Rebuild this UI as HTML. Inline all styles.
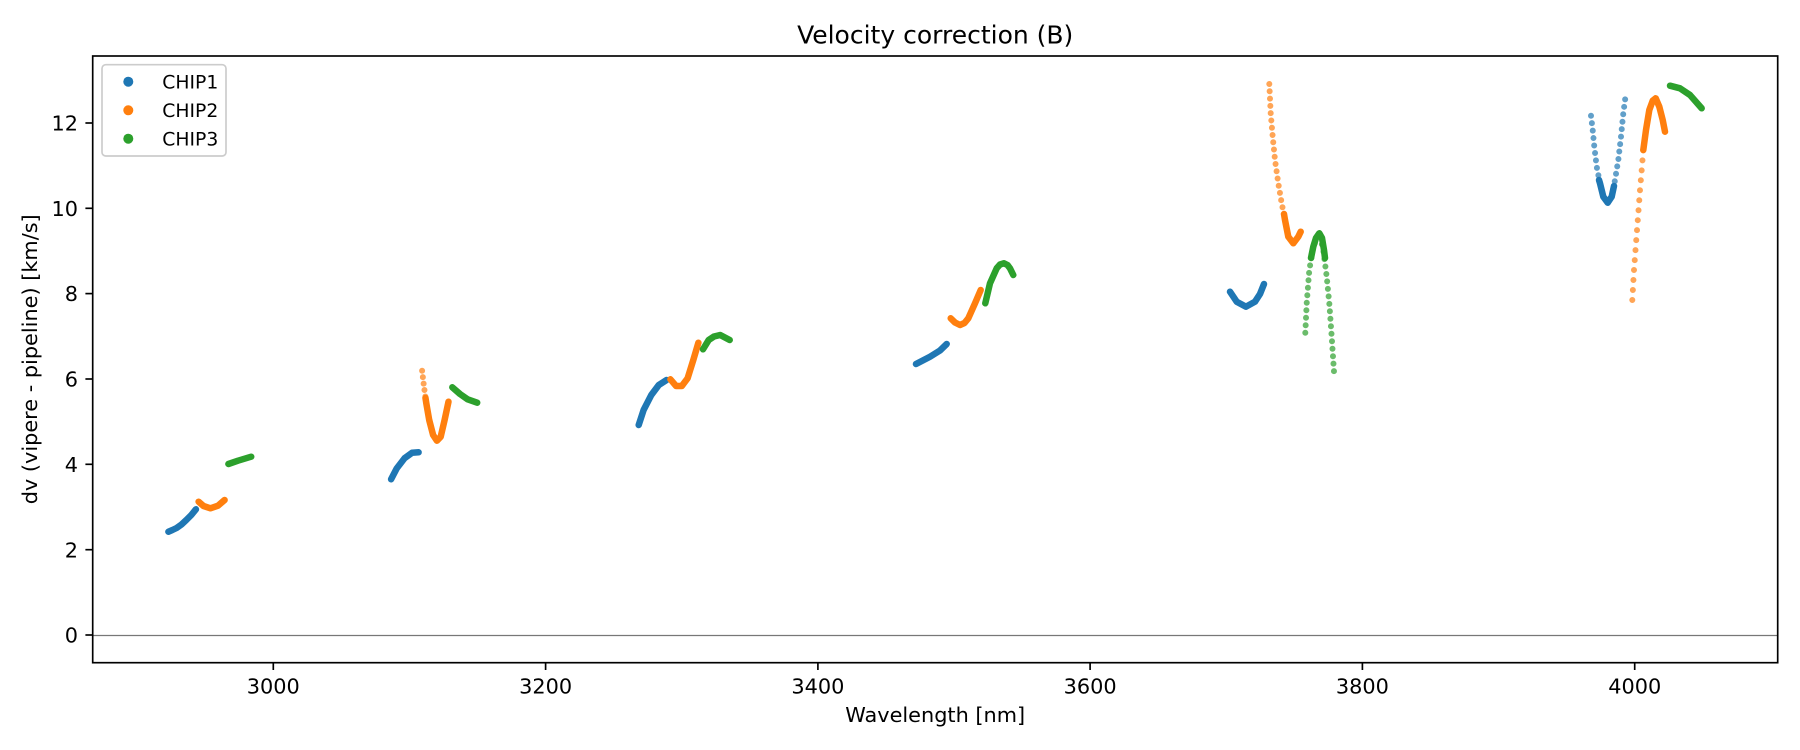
<!DOCTYPE html>
<html>
<head>
<meta charset="utf-8">
<style>
html,body{margin:0;padding:0;background:#fff;}
svg{display:block;}
text{font-family:"DejaVu Sans","Liberation Sans",sans-serif;fill:#000;}
</style>
</head>
<body>
<svg width="1800" height="750" viewBox="0 0 1800 750" xmlns="http://www.w3.org/2000/svg">
<rect x="0" y="0" width="1800" height="750" fill="#fff"/>

<!-- zero line -->
<line x1="92.7" y1="635.5" x2="1777.7" y2="635.5" stroke="#777" stroke-width="1.2"/>

<g fill="none" stroke-linecap="round" stroke-linejoin="round">
<!-- Group 1 -->
<polyline stroke="#1f77b4" stroke-width="6.5" points="168.4,531.7 172.4,530 176.6,528 181.5,524.5 186.3,520 191.3,515 195.9,509.3"/>
<polyline stroke="#ff7f0e" stroke-width="6.5" points="198.6,501.7 203.5,506 210.4,508.3 218,505.7 224.6,500"/>
<polyline stroke="#2ca02c" stroke-width="6.5" points="228.4,464 238,460.7 251.2,456.7"/>

<!-- Group 2 -->
<polyline stroke="#1f77b4" stroke-width="6.5" points="391.1,479.3 396.8,468.3 404.5,458.3 412.1,452.7 418.6,452.3"/>
<polyline stroke="#ff7f0e" stroke-width="6" stroke-dasharray="0 6.5" opacity="0.7" points="422.1,370.7 424,386.7 426.3,403.3"/>
<polyline stroke="#ff7f0e" stroke-width="6.5" points="425.5,398 426.3,403.3 429.2,420 433.1,435 436.9,440.7 440.7,436.7 444.6,420 448.5,401.7"/>
<polyline stroke="#2ca02c" stroke-width="6.5" points="452.3,387.3 460,394 467.6,399.3 477.2,402.7"/>

<!-- Group 3 -->
<polyline stroke="#1f77b4" stroke-width="6.5" points="638.7,425 643.6,410 651.3,395 658.8,385 666.6,380"/>
<polyline stroke="#ff7f0e" stroke-width="6.5" points="670.4,379.3 676.1,386 681.8,386 687.6,378.3 693.3,360 698.4,342.7"/>
<polyline stroke="#2ca02c" stroke-width="6.5" points="703,349.3 708.7,340 714,336.5 720.2,335 729.7,340"/>

<!-- Group 4 -->
<polyline stroke="#1f77b4" stroke-width="6.5" points="916,364 930,356.7 940,350.5 946.7,344"/>
<polyline stroke="#ff7f0e" stroke-width="6.5" points="950.7,318.3 955,322.5 960,325 964.5,323 968.3,318.3 975,303.3 980.7,290"/>
<polyline stroke="#2ca02c" stroke-width="6.5" points="985.3,303.3 990,283.3 996.7,268.3 1000,264.5 1004,263.3 1007.5,265 1010,268.3 1013.3,275"/>

<!-- Group 5 -->
<polyline stroke="#1f77b4" stroke-width="6.5" points="1230,291.7 1236.7,301.7 1246,306.7 1255,301.7 1260,294 1264,284"/>
<polyline stroke="#ff7f0e" stroke-width="6" stroke-dasharray="0 7.3" opacity="0.7" points="1269.3,84 1270.7,113.3 1272.7,136.7 1275,160 1278.3,183.3 1281.7,203.3 1285,220"/>
<polyline stroke="#ff7f0e" stroke-width="6.5" points="1284,214 1285,220 1288.3,236.7 1293.3,243.3 1298.3,236.7 1300.7,231.7"/>
<polyline stroke="#2ca02c" stroke-width="6" stroke-dasharray="0 7.5" opacity="0.7" points="1305.3,332.7 1306.7,303.3 1309.3,270 1313.3,246.7 1319.3,233.3 1323.3,250 1326.7,276.7 1329.3,303.3 1331.7,336.7 1334,371.7"/>
<polyline stroke="#2ca02c" stroke-width="6.5" points="1311,258 1313.3,246.7 1316,238 1319.3,233.3 1322,238 1324,250 1325,258"/>

<!-- Group 6 -->
<polyline stroke="#1f77b4" stroke-width="6" stroke-dasharray="0 7.5" opacity="0.7" points="1591,115.7 1592.7,130 1594.3,146.7 1596.7,166.7 1600,183.3 1603.3,196.7 1607.7,202.7 1611.7,196.7 1615,180 1618.3,160 1621,136.7 1623.3,113.3 1625.7,95"/>
<polyline stroke="#1f77b4" stroke-width="6.5" points="1599,180 1600,183.3 1603.3,196.7 1607.7,202.7 1611.7,196.7 1614,186"/>
<polyline stroke="#ff7f0e" stroke-width="6" stroke-dasharray="0 10" opacity="0.7" points="1632.3,300 1634,270 1636,243.3 1638.3,213.3 1640,190 1641.7,170 1643.3,150"/>
<polyline stroke="#ff7f0e" stroke-width="6.5" points="1643.3,150 1646,130 1649.3,110 1652.7,100.7 1655.7,98.3 1659.3,106.7 1662.7,120 1665,131.7"/>
<polyline stroke="#2ca02c" stroke-width="6.5" points="1670,85.7 1680,88.3 1690,95 1701.7,108.3"/>
</g>

<!-- axes frame -->
<rect x="92.7" y="56" width="1685" height="606.7" fill="none" stroke="#000" stroke-width="1.67"/>

<!-- x ticks -->
<g stroke="#000" stroke-width="1.67">
<line x1="273.3" y1="662.7" x2="273.3" y2="670"/>
<line x1="545.6" y1="662.7" x2="545.6" y2="670"/>
<line x1="817.9" y1="662.7" x2="817.9" y2="670"/>
<line x1="1090.1" y1="662.7" x2="1090.1" y2="670"/>
<line x1="1362.4" y1="662.7" x2="1362.4" y2="670"/>
<line x1="1634.7" y1="662.7" x2="1634.7" y2="670"/>
</g>
<g font-size="20.83" text-anchor="middle">
<text x="273.3" y="693.3">3000</text>
<text x="545.6" y="693.3">3200</text>
<text x="817.9" y="693.3">3400</text>
<text x="1090.1" y="693.3">3600</text>
<text x="1362.4" y="693.3">3800</text>
<text x="1634.7" y="693.3">4000</text>
</g>

<!-- y ticks -->
<g stroke="#000" stroke-width="1.67">
<line x1="85.4" y1="635" x2="92.7" y2="635"/>
<line x1="85.4" y1="549.7" x2="92.7" y2="549.7"/>
<line x1="85.4" y1="464.3" x2="92.7" y2="464.3"/>
<line x1="85.4" y1="379" x2="92.7" y2="379"/>
<line x1="85.4" y1="293.6" x2="92.7" y2="293.6"/>
<line x1="85.4" y1="208.3" x2="92.7" y2="208.3"/>
<line x1="85.4" y1="123" x2="92.7" y2="123"/>
</g>
<g font-size="20.83" text-anchor="end">
<text x="78" y="642.6">0</text>
<text x="78" y="557.3">2</text>
<text x="78" y="471.9">4</text>
<text x="78" y="386.6">6</text>
<text x="78" y="301.2">8</text>
<text x="78" y="215.9">10</text>
<text x="78" y="130.6">12</text>
</g>

<!-- labels -->
<text x="935.2" y="43.5" font-size="25" text-anchor="middle">Velocity correction (B)</text>
<text x="935.2" y="722" font-size="20.83" text-anchor="middle">Wavelength [nm]</text>
<text transform="translate(37,359.3) rotate(-90)" font-size="20.83" text-anchor="middle">dv (vipere - pipeline) [km/s]</text>

<!-- legend -->
<rect x="102" y="64.7" width="124" height="91.3" rx="3.75" ry="3.75" fill="#fff" fill-opacity="0.8" stroke="#cccccc" stroke-width="1.67"/>
<circle cx="128.3" cy="81.7" r="5" fill="#1f77b4"/>
<circle cx="128.3" cy="110.3" r="5" fill="#ff7f0e"/>
<circle cx="128.3" cy="138.7" r="5" fill="#2ca02c"/>
<g font-size="18.75">
<text x="162.3" y="88.5">CHIP1</text>
<text x="162.3" y="117.1">CHIP2</text>
<text x="162.3" y="145.5">CHIP3</text>
</g>
</svg>
</body>
</html>
